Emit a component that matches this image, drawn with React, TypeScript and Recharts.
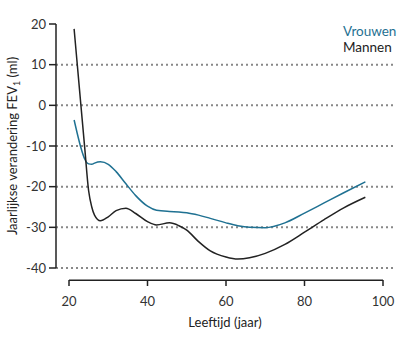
import { LineChart, Line, XAxis, YAxis, ReferenceLine, Legend } from 'recharts'

// leeftijd (jaar) en jaarlijkse verandering FEV1 (ml)
const ages = [21.3, 22, 23, 24, 25, 25.8, 26.5, 28, 30, 32, 34.5, 37, 40, 42.3, 45.6, 48, 50, 53, 56, 60, 63, 66, 70, 75, 80, 85, 90, 95.5]
const mannen = [18.8, 11.2, 0.4, -10.4, -21.0, -25.0, -27.0, -28.4, -27.4, -25.9, -25.3, -26.6, -28.6, -29.4, -28.9, -29.6, -30.7, -33.5, -35.8, -37.3, -37.8, -37.5, -36.4, -34.2, -31.2, -28.1, -25.2, -22.6]
const vrouwen = [-3.6, -6.5, -10.3, -13.2, -14.4, -14.5, -14.2, -13.9, -14.5, -16.3, -19.3, -22.2, -24.8, -25.8, -26.1, -26.2, -26.4, -27.0, -27.8, -28.9, -29.6, -30.0, -30.1, -28.9, -26.5, -24.0, -21.5, -18.8]

const xTicks = [20, 40, 60, 80, 100]
const yTicks = [-40, -30, -20, -10, 0, 10, 20]
const gridValues = [-40, -30, -20, -10, 0, 10]

const data = ages.map((age, i) => ({ age, mannen: mannen[i], vrouwen: vrouwen[i] }))

const TEAL = '#1f7192'
const INK = '#222'
const FONT = 'Lato, sans-serif'
// x-as ligt los onder de plot, iets onder -40
const X_AXIS_LEVEL = -43

function XTick(props: any) {
    const { x, y, payload } = props
    return (
        <g>
            <line x1={x} x2={x} y1={y + 12} y2={y + 18} stroke={INK} strokeWidth={1.5} />
            <text x={x} y={y + 33} textAnchor="middle" dominantBaseline="central" fontSize={13} fill="#333" fontFamily={FONT}>
                {payload.value}
            </text>
        </g>
    )
}

function XTitle(props: any) {
    const { viewBox } = props
    const cx = viewBox.x + viewBox.width / 2
    return (
        <text x={cx} y={322} textAnchor="middle" dominantBaseline="central" fontSize={13} fill="#222" fontFamily={FONT}>
            Leeftijd (jaar)
        </text>
    )
}

function YTitle(props: any) {
    const { viewBox } = props
    const cx = 12
    const cy = viewBox.y + viewBox.height / 2
    return (
        <text
            x={cx}
            y={cy}
            transform={`rotate(-90 ${cx} ${cy})`}
            textAnchor="middle"
            dominantBaseline="central"
            fontSize={13}
            fill="#222"
            fontFamily={FONT}
        >
            Jaarlijkse verandering FEV<tspan fontSize={9} dy={4}>1</tspan>
            <tspan dy={-4}> (ml)</tspan>
        </text>
    )
}

function LegendBox() {
    return (
        <div style={{ fontFamily: FONT, fontSize: 13.5, lineHeight: '16px' }}>
            <div style={{ color: TEAL }}>Vrouwen</div>
            <div style={{ color: INK }}>Mannen</div>
        </div>
    )
}

export default function App() {
    return (
        <div style={{ position: 'absolute', left: 0, top: 0, background: '#fff' }}>
            <LineChart width={417} height={339} data={data} margin={{ top: 24, right: 23, bottom: 11, left: 0 }}>
                {gridValues.map((v) => (
                    <ReferenceLine key={v} y={v} stroke="#888" strokeWidth={2} strokeDasharray="2 3" />
                ))}
                <ReferenceLine
                    segment={[{ x: 20, y: X_AXIS_LEVEL }, { x: 100, y: X_AXIS_LEVEL }]}
                    stroke={INK}
                    strokeWidth={1.5}
                    ifOverflow="visible"
                />
                <XAxis
                    dataKey="age"
                    type="number"
                    domain={[20, 100]}
                    ticks={xTicks}
                    padding={{ left: 13, right: 11 }}
                    height={60}
                    axisLine={false}
                    tickLine={false}
                    tickSize={0}
                    tickMargin={0}
                    tick={<XTick />}
                    label={<XTitle />}
                />
                <YAxis
                    type="number"
                    domain={[-40, 20]}
                    ticks={yTicks}
                    width={56}
                    axisLine={{ stroke: INK, strokeWidth: 1.5 }}
                    tickLine={{ stroke: INK, strokeWidth: 1.5 }}
                    tickSize={7}
                    tickMargin={3}
                    tick={{ fontSize: 13, fill: '#333', fontFamily: FONT }}
                    label={<YTitle />}
                />
                <Legend
                    content={<LegendBox />}
                    layout="vertical"
                    verticalAlign="middle"
                    align="center"
                    wrapperStyle={{ position: 'absolute', left: 343, top: 23, width: 70 }}
                />
                <Line
                    dataKey="vrouwen"
                    type="monotone"
                    stroke={TEAL}
                    strokeWidth={1.5}
                    dot={false}
                    isAnimationActive={false}
                />
                <Line
                    dataKey="mannen"
                    type="monotone"
                    stroke={INK}
                    strokeWidth={1.5}
                    dot={false}
                    isAnimationActive={false}
                />
            </LineChart>
        </div>
    )
}
